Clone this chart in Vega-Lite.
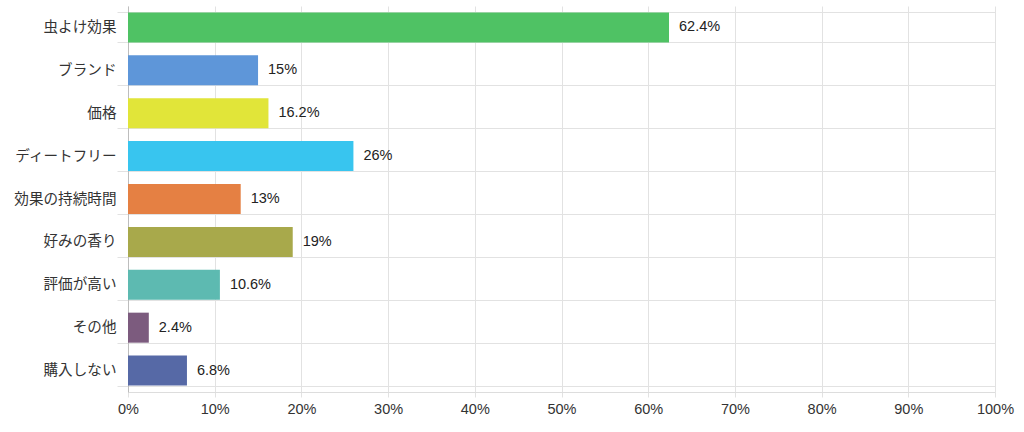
{
  "$schema": "https://vega.github.io/schema/vega-lite/v6.json",
  "width": 867,
  "height": 386,
  "autosize": {"type": "none"},
  "padding": {"left": 128, "top": 6, "right": 29, "bottom": 40},
  "background": "white",
  "config": {
    "font": "Arial, Liberation Sans, Noto Sans CJK JP, sans-serif",
    "view": {"stroke": null}
  },
  "data": {
    "values": [
      {"item": "虫よけ効果", "pct": 62.4, "color": "#4fc264"},
      {"item": "ブランド", "pct": 15, "color": "#5e96d9"},
      {"item": "価格", "pct": 16.2, "color": "#e1e539"},
      {"item": "ディートフリー", "pct": 26, "color": "#38c5ef"},
      {"item": "効果の持続時間", "pct": 13, "color": "#e58043"},
      {"item": "好みの香り", "pct": 19, "color": "#a8a94b"},
      {"item": "評価が高い", "pct": 10.6, "color": "#5dbab1"},
      {"item": "その他", "pct": 2.4, "color": "#7c5b7e"},
      {"item": "購入しない", "pct": 6.8, "color": "#5669a6"}
    ]
  },
  "encoding": {
    "y": {
      "field": "item",
      "type": "nominal",
      "sort": null,
      "title": null,
      "scale": {"paddingInner": 0.3, "paddingOuter": 0.15},
      "axis": {
        "tickBand": "extent",
        "grid": true,
        "gridColor": "#e2e2e2",
        "tickColor": "#e2e2e2",
        "tickSize": 11,
        "domainColor": "#bdbdbd",
        "labelFontSize": 14.6,
        "labelColor": "#333333",
        "labelPadding": 1
      }
    },
    "x": {
      "field": "pct",
      "type": "quantitative",
      "title": null,
      "scale": {"domain": [0, 100], "nice": false},
      "axis": {
        "values": [0, 10, 20, 30, 40, 50, 60, 70, 80, 90, 100],
        "labelExpr": "datum.value + '%'",
        "labelFlush": false,
        "grid": true,
        "gridColor": "#e2e2e2",
        "tickColor": "#e2e2e2",
        "tickSize": 5,
        "domainColor": "#dddddd",
        "labelFontSize": 14.5,
        "labelColor": "#333333",
        "labelPadding": 5
      }
    }
  },
  "layer": [
    {
      "mark": {"type": "bar"},
      "encoding": {
        "color": {"field": "color", "type": "nominal", "scale": null}
      }
    },
    {
      "mark": {
        "type": "text",
        "align": "left",
        "baseline": "middle",
        "dx": 10,
        "fontSize": 14.5,
        "color": "#222222",
        "text": {"expr": "datum.pct + '%'"}
      }
    }
  ]
}
